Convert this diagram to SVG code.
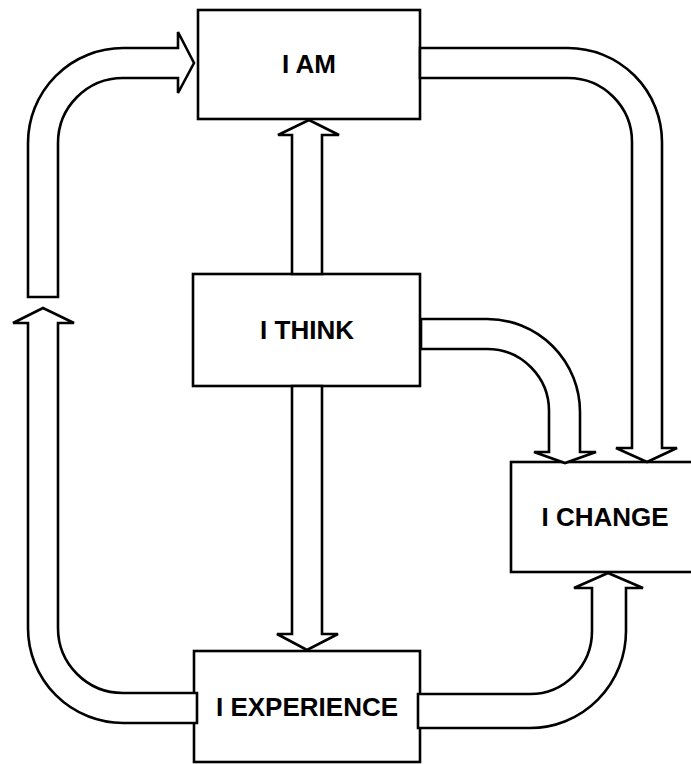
<svg xmlns="http://www.w3.org/2000/svg" width="691" height="764" viewBox="0 0 691 764">
  <style>
    .box { fill: #fff; stroke: #000; stroke-width: 2.6; }
    .lbl { font-family: "Liberation Sans", Arial, sans-serif; font-weight: bold; font-size: 26px; fill: #000; text-anchor: middle; }
    .flow { fill: #fff; stroke: #000; stroke-width: 2.6; stroke-linejoin: miter; }
  </style>
  <rect width="691" height="764" fill="#fff"/>

  <g id="i-am">
    <rect class="box" x="198" y="10" width="222" height="109"/>
    <text class="lbl" x="309" y="73">I AM</text>
  </g>
  <g id="i-think">
    <rect class="box" x="193" y="274" width="227" height="112"/>
    <text class="lbl" x="307" y="339">I THINK</text>
  </g>
  <g id="i-change">
    <rect class="box" x="511" y="462" width="200" height="110"/>
    <text class="lbl" x="605" y="526">I CHANGE</text>
  </g>
  <g id="i-experience">
    <rect class="box" x="194" y="651" width="226" height="111"/>
    <text class="lbl" x="307" y="716">I EXPERIENCE</text>
  </g>

  <g id="connectors">
    <!-- left column up into I AM -->
    <path class="flow" d="M 28 297 L 28 143 A 95 95 0 0 1 123 48 L 178 48 L 178 32 L 194 63 L 178 93 L 178 78 L 123 78 A 65 65 0 0 0 58 143 L 58 297 Z"/>
    <!-- I AM round to I CHANGE -->
    <path class="flow" d="M 420 48 L 568 48 A 94 94 0 0 1 662 142 L 662 448 L 677 448 L 647 462 L 616 448 L 632 448 L 632 142 A 64 64 0 0 0 568 78 L 420 78 Z"/>
    <!-- I THINK up to I AM -->
    <path class="flow" d="M 292 274 L 292 135 L 278 135 L 309 120 L 339 135 L 322 135 L 322 274 Z"/>
    <!-- I THINK to I CHANGE -->
    <path class="flow" d="M 421 319 L 487 319 A 93 93 0 0 1 580 412 L 580 452 L 596 452 L 565 463 L 534 452 L 549 452 L 549 412 A 62 62 0 0 0 487 349 L 421 349 Z"/>
    <!-- I THINK down to I EXPERIENCE -->
    <path class="flow" d="M 292 386 L 292 634 L 277 634 L 307 650 L 338 634 L 322 634 L 322 386 Z"/>
    <!-- I EXPERIENCE round the left side -->
    <path class="flow" d="M 197 693 L 123 693 A 65 65 0 0 1 58 628 L 58 323 L 74 323 L 43 308 L 13 323 L 28 323 L 28 628 A 95 95 0 0 0 123 723 L 197 723 Z"/>
    <!-- I EXPERIENCE up into I CHANGE -->
    <path class="flow" d="M 418 694 L 530 694 A 62 63 0 0 0 592 631 L 592 588 L 574 588 L 608 573 L 643 588 L 626 588 L 626 631 A 96 97 0 0 1 530 728 L 418 728 Z"/>
  </g>
</svg>
